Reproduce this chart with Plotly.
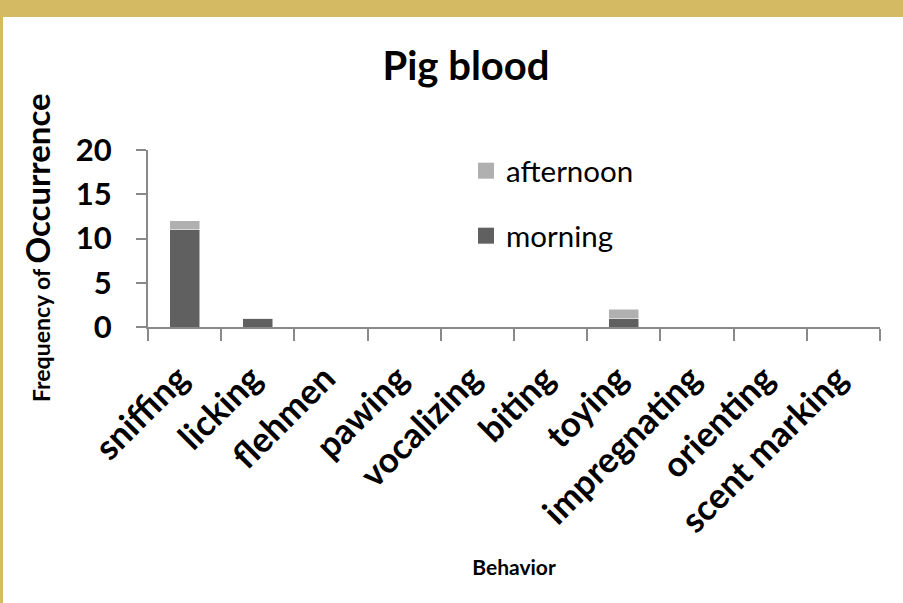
import plotly.graph_objects as go

categories = ["sniffing", "licking", "flehmen", "pawing", "vocalizing", "biting",
              "toying", "impregnating", "orienting", "scent marking"]
morning = [11, 1, 0, 0, 0, 0, 1, 0, 0, 0]
afternoon = [1, 0, 0, 0, 0, 0, 1, 0, 0, 0]
y_ticks = [0, 5, 10, 15, 20]

FONT = "Lato"
W, H = 903, 603
L, R, T, B = 148, 880, 150, 327
C_MORN = "#606060"
C_AFT = "#b0b0b0"

fig = go.Figure()
fig.add_trace(go.Bar(x=categories, y=morning, name="morning",
                     marker=dict(color=C_MORN, line=dict(color="#ffffff", width=0.5)),
                     width=0.41, showlegend=False))
fig.add_trace(go.Bar(x=categories, y=afternoon, name="afternoon",
                     marker=dict(color=C_AFT, line=dict(color="#ffffff", width=0.5)),
                     width=0.41, showlegend=False))
# legend-only entries with larger square swatches
fig.add_trace(go.Scatter(x=[None], y=[None], mode="markers", name="afternoon",
                         marker=dict(symbol="square", size=17, color=C_AFT), legend="legend"))
fig.add_trace(go.Scatter(x=[None], y=[None], mode="markers", name="morning",
                         marker=dict(symbol="square", size=17, color=C_MORN), legend="legend2"))

def px(x):
    return (x - L) / (R - L)

def py(y):
    return (B - y) / (B - T)

gold = "#d4bb63"
shapes = [
    dict(type="rect", xref="paper", yref="paper", x0=px(0), x1=px(W), y0=py(17), y1=py(0),
         fillcolor=gold, line=dict(width=0), layer="above"),
    dict(type="rect", xref="paper", yref="paper", x0=px(0), x1=px(3), y0=py(H), y1=py(0),
         fillcolor=gold, line=dict(width=0), layer="above"),
]

annotations = [
    dict(text="<b><span style='font-size:23px'>Frequency of </span>Occurrence</b>",
         font=dict(size=33, family=FONT, color="black"), textangle=-90,
         xref="paper", yref="paper", x=px(37), y=py(248),
         xanchor="center", yanchor="middle", showarrow=False),
]

fig.update_layout(
    width=W, height=H,
    margin=dict(l=L, r=W - R, t=T, b=H - B),
    paper_bgcolor="white", plot_bgcolor="white",
    barmode="stack",
    font=dict(family=FONT, color="black"),
    title=dict(text="<b>Pig blood</b>", x=466 / W, xanchor="center", y=1 - 66 / H,
               yanchor="middle", font=dict(size=40, family=FONT)),
    showlegend=True,
    legend=dict(x=px(466), y=py(171), xanchor="left", yanchor="middle",
                font=dict(size=29.5, family=FONT), bgcolor="rgba(0,0,0,0)",
                itemwidth=30),
    legend2=dict(x=px(466), y=py(236), xanchor="left", yanchor="middle",
                 font=dict(size=29.5, family=FONT), bgcolor="rgba(0,0,0,0)",
                 itemwidth=30),
    shapes=shapes,
    annotations=annotations,
    xaxis=dict(
        type="category", tickangle=-45, tickson="boundaries", ticks="outside",
        ticklen=12, tickwidth=2, tickcolor="#898989",
        showline=True, linecolor="#898989", linewidth=2,
        tickfont=dict(size=35, family=FONT, color="black", weight="bold"),
        ticklabelstandoff=15, ticklabelshift=-6,
        showgrid=False,
        title=dict(text="<b>Behavior</b>", font=dict(size=21, family=FONT), standoff=22),
    ),
    yaxis=dict(
        range=[0, 20], tickvals=y_ticks, ticktext=[f"<b>{v}</b>" for v in y_ticks],
        ticks="outside", ticklen=10, tickwidth=2, tickcolor="#898989",
        showline=True, linecolor="#898989", linewidth=2,
        tickfont=dict(size=31, family=FONT, color="black"),
        ticklabelstandoff=18,
        showgrid=False, zeroline=False,
    ),
)

fig.write_html("out.html", config={"displayModeBar": False},
               post_script="document.body.style.margin='0';document.body.style.padding='0';")
